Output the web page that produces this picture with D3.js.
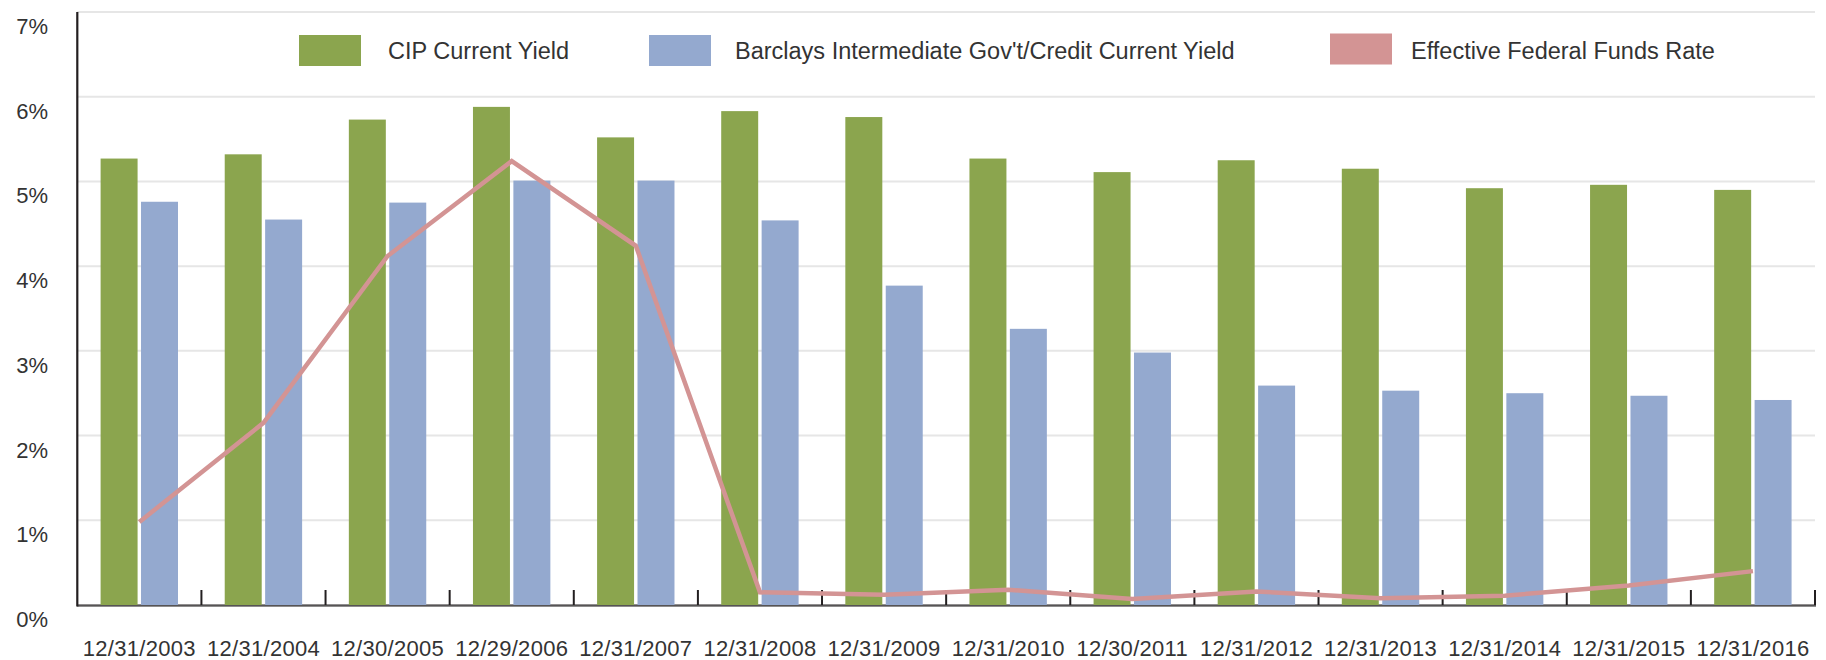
<!DOCTYPE html>
<html>
<head>
<meta charset="utf-8">
<script src="https://cdn.jsdelivr.net/npm/d3@7"></script>
<style>
  html, body { margin: 0; padding: 0; background: #fff; }
  svg { display: block; }
  text { font-family: "Liberation Sans", Arial, Helvetica, sans-serif; fill: #333; }
</style>
</head>
<body>
<svg id="chart" width="1826" height="660"></svg>
<script>
const categories = ['12/31/2003','12/31/2004','12/30/2005','12/29/2006','12/31/2007','12/31/2008','12/31/2009','12/31/2010','12/30/2011','12/31/2012','12/31/2013','12/31/2014','12/31/2015','12/31/2016'];
const cipYield = [5.27, 5.32, 5.73, 5.88, 5.52, 5.83, 5.76, 5.27, 5.11, 5.25, 5.15, 4.92, 4.96, 4.90];
const barclaysYield = [4.76, 4.55, 4.75, 5.01, 5.01, 4.54, 3.77, 3.26, 2.98, 2.59, 2.53, 2.50, 2.47, 2.42];
const fedFundsRate = [0.98, 2.15, 4.12, 5.24, 4.24, 0.15, 0.12, 0.18, 0.07, 0.16, 0.08, 0.11, 0.23, 0.40];
const yTicks = [0, 1, 2, 3, 4, 5, 6, 7];
const seriesNames = ['CIP Current Yield', "Barclays Intermediate Gov't/Credit Current Yield", 'Effective Federal Funds Rate'];

const colors = { cip: '#8ba54e', barclays: '#94a9cf', fed: '#d39494' };

const svg = d3.select('#chart');
const plotLeft = 77.3, plotRight = 1815, plotTop = 12, plotBottom = 605;

const y = d3.scaleLinear().domain([0, 7]).range([plotBottom, plotTop]);
const x0 = d3.scaleBand().domain(categories).range([plotLeft, plotRight]).paddingInner(0).paddingOuter(0);
const x1 = d3.scaleBand().domain(['cip', 'barclays']).range([23.3, 100.7]).paddingInner(0.085);

// gridlines
svg.append('g').selectAll('line').data(yTicks.filter(d => d > 0)).join('line')
  .attr('x1', plotLeft).attr('x2', plotRight)
  .attr('y1', d => y(d)).attr('y2', d => y(d))
  .attr('stroke', '#e6e6e6').attr('stroke-width', 2);

// y labels (offset below gridlines as in the original)
svg.append('g').selectAll('text').data(yTicks).join('text')
  .attr('x', 48).attr('y', d => y(d) + 14.5)
  .attr('text-anchor', 'end').attr('dominant-baseline', 'central')
  .style('font-size', '22px')
  .text(d => d + '%');

// baseline axis (dark), then bars
svg.append('line').attr('x1', plotLeft).attr('x2', plotRight + 1)
  .attr('y1', plotBottom + 0.5).attr('y2', plotBottom + 0.5)
  .attr('stroke', '#231f20').attr('stroke-width', 2);

const groups = svg.append('g').selectAll('g').data(categories).join('g')
  .attr('transform', d => `translate(${x0(d)},0)`);

groups.append('rect')
  .attr('x', x1('cip')).attr('width', x1.bandwidth())
  .attr('y', (d, i) => y(cipYield[i])).attr('height', (d, i) => y(0) - y(cipYield[i]))
  .attr('fill', colors.cip);
groups.append('rect')
  .attr('x', x1('barclays')).attr('width', x1.bandwidth())
  .attr('y', (d, i) => y(barclaysYield[i])).attr('height', (d, i) => y(0) - y(barclaysYield[i]))
  .attr('fill', colors.barclays);

// thin gray line under bars
svg.append('line').attr('x1', plotLeft).attr('x2', plotRight + 1)
  .attr('y1', plotBottom + 1).attr('y2', plotBottom + 1)
  .attr('stroke', '#8a8a8a').attr('stroke-width', 1);

// ticks at category boundaries
const boundaries = categories.slice(1).map(c => x0(c)).concat([plotRight]);
svg.append('g').selectAll('line').data(boundaries).join('line')
  .attr('x1', d => d).attr('x2', d => d)
  .attr('y1', plotBottom).attr('y2', plotBottom - 15)
  .attr('stroke', '#231f20').attr('stroke-width', 2);

// left axis
svg.append('line').attr('x1', plotLeft).attr('x2', plotLeft)
  .attr('y1', plotTop).attr('y2', plotBottom + 1.5)
  .attr('stroke', '#231f20').attr('stroke-width', 2.2);

// fed funds line
const line = d3.line()
  .x((d, i) => x0(categories[i]) + x0.bandwidth() / 2)
  .y(d => y(d));
svg.append('path').datum(fedFundsRate)
  .attr('d', line).attr('fill', 'none')
  .attr('stroke', colors.fed).attr('stroke-width', 4.5)
  .attr('stroke-linejoin', 'miter');

// x labels
svg.append('g').selectAll('text').data(categories).join('text')
  .attr('x', d => x0(d) + x0.bandwidth() / 2).attr('y', 648)
  .attr('text-anchor', 'middle').attr('dominant-baseline', 'central')
  .style('font-size', '22px').style('letter-spacing', '0.3px')
  .text(d => d);

// legend
const legendSwatchX = [299, 649, 1330];
const legendTextX = [388, 735, 1411];
const legendColors = [colors.cip, colors.barclays, colors.fed];
const lg = svg.append('g').selectAll('g').data(seriesNames).join('g');
lg.append('rect')
  .attr('x', (d, i) => legendSwatchX[i]).attr('y', (d, i) => i === 2 ? 33.5 : 35)
  .attr('width', 62).attr('height', 31)
  .attr('fill', (d, i) => legendColors[i]);
lg.append('text')
  .attr('x', (d, i) => legendTextX[i]).attr('y', 50.5)
  .attr('dominant-baseline', 'central')
  .style('font-size', '23.5px')
  .text(d => d);
</script>
</body>
</html>
